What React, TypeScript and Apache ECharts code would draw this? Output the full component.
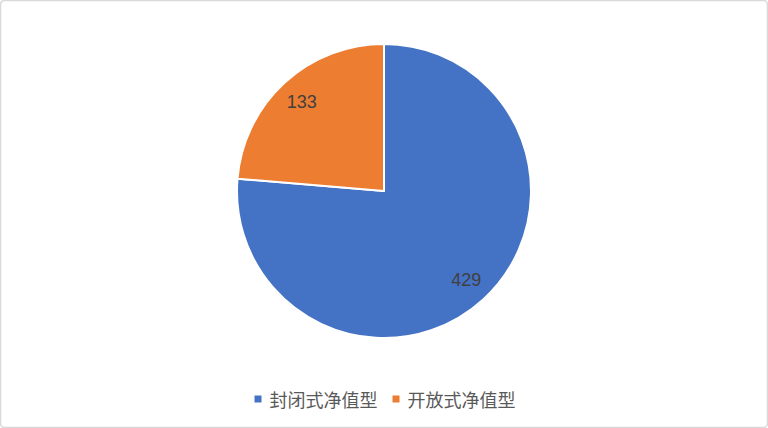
import React, { useEffect, useRef } from 'react'
import * as echarts from 'echarts'

const categories = ['封闭式净值型', '开放式净值型']
const values = [429, 133]
const colors = ['#4472C4', '#ED7D31']

export default function App() {
    const chartRef = useRef<HTMLDivElement>(null)

    useEffect(() => {
        document.body.style.margin = '0'
        const chart = echarts.init(chartRef.current, null, { renderer: 'svg' })
        const data = categories.map((name, i) => ({ name, value: values[i] }))
        chart.setOption({
            animation: false,
            backgroundColor: '#ffffff',
            color: colors,
            graphic: [
                {
                    type: 'rect',
                    shape: { x: 0.5, y: 0.5, width: 767, height: 427, r: 4 },
                    style: { fill: 'none', stroke: '#d9d9d9', lineWidth: 1.5 },
                    silent: true
                }
            ],
            legend: {
                data: categories,
                bottom: 15,
                left: 'center',
                icon: 'rect',
                itemWidth: 9,
                itemHeight: 9,
                itemGap: 13,
                textStyle: { color: '#595959', fontSize: 18, padding: [0, 0, 0, 2], fontFamily: 'Noto Sans CJK SC' }
            },
            series: [
                {
                    type: 'pie',
                    center: [384, 191],
                    radius: [0, 147],
                    startAngle: 90,
                    clockwise: true,
                    data,
                    label: { show: false },
                    labelLine: { show: false },
                    itemStyle: { borderColor: '#ffffff', borderWidth: 2 },
                    emphasis: { disabled: true }
                },
                {
                    type: 'pie',
                    center: [384, 191],
                    radius: [90, 147],
                    startAngle: 90,
                    clockwise: true,
                    data,
                    silent: true,
                    legendHoverLink: false,
                    itemStyle: { color: 'transparent' },
                    label: {
                        show: true,
                        position: 'inside',
                        formatter: '{c}',
                        color: '#404040',
                        fontSize: 18,
                        fontFamily: 'Liberation Sans'
                    },
                    labelLine: { show: false },
                    emphasis: { disabled: true }
                }
            ]
        })
        return () => chart.dispose()
    }, [])

    return (
        <div style={{ position: 'fixed', left: 0, top: 0 }}>
            <div ref={chartRef} style={{ width: 768, height: 428 }} />
        </div>
    )
}
